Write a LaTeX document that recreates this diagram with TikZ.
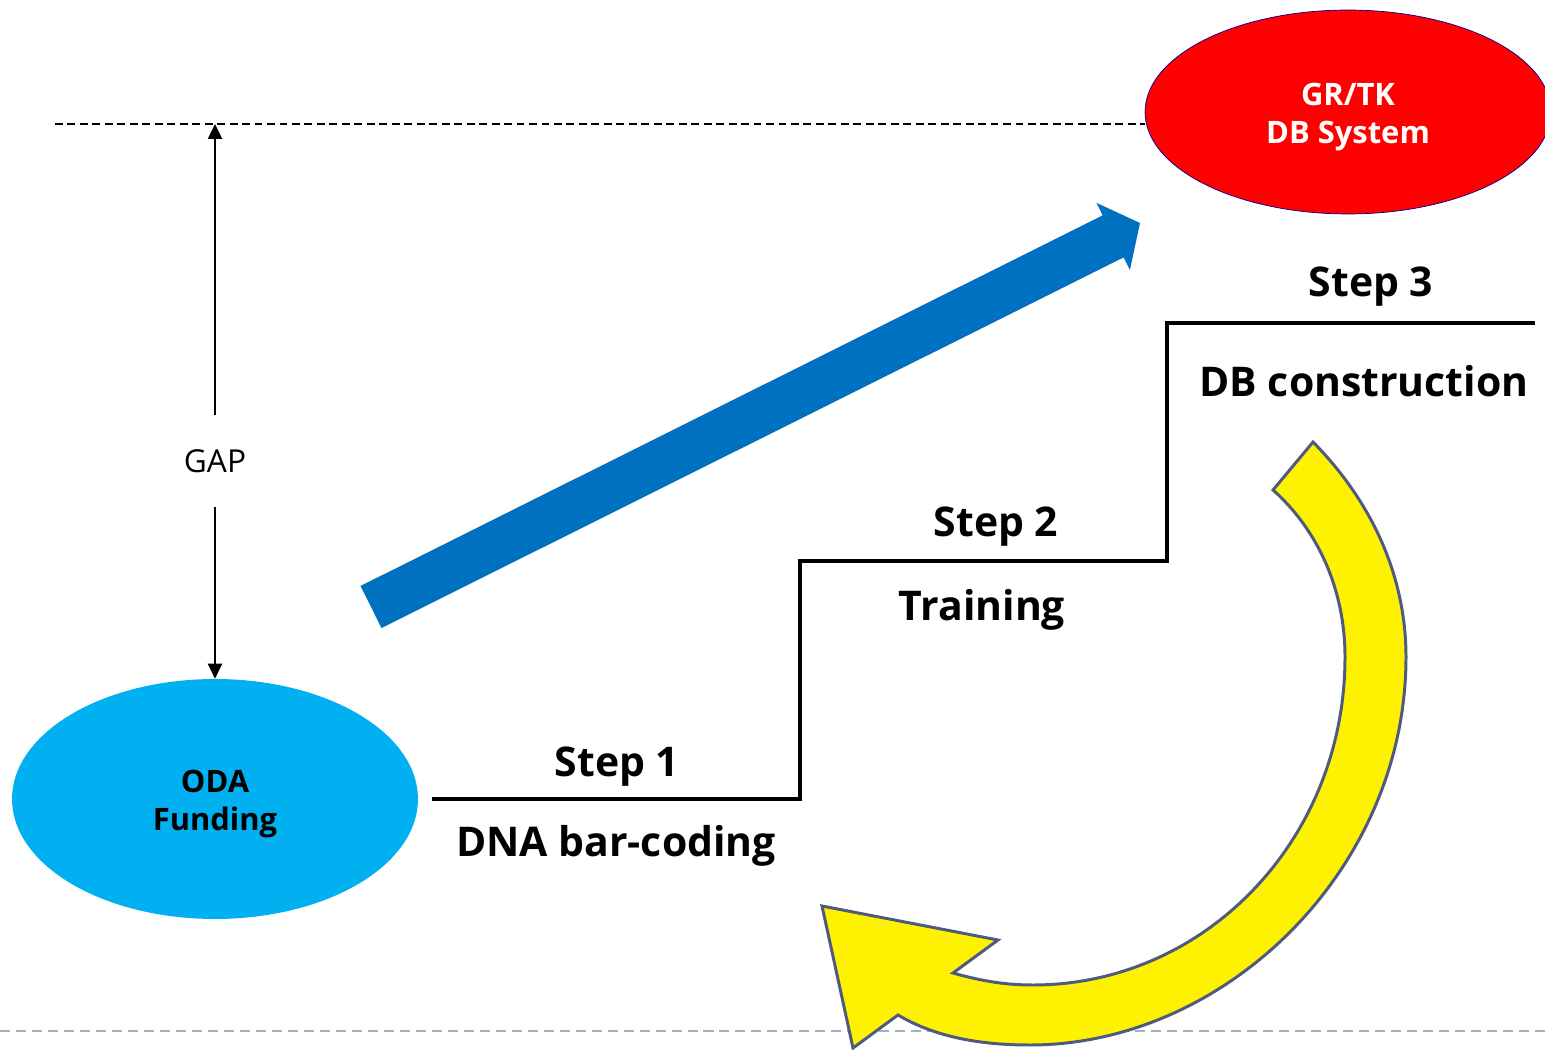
\documentclass[tikz,border=0pt]{standalone}
\usepackage{fontspec}
\setmainfont{Open Sans}
\usetikzlibrary{arrows.meta,shapes.geometric,calc}

\definecolor{odablue}{HTML}{00B0F0}
\definecolor{dbred}{HTML}{FF0000}
\definecolor{flowblue}{HTML}{0070C0}
\definecolor{cycleedge}{HTML}{4F5B7E}
\definecolor{footline}{HTML}{9DB4CA}

\begin{document}
\begin{tikzpicture}[x=0.02cm, y=-0.02cm,
   goal/.style={ellipse, inner sep=0pt, minimum width=8.12cm},
   goaltext/.style={align=center, inner sep=0pt, font=\bfseries\fontsize{17.6}{21.8}\selectfont},
   steplabel/.style={font=\bfseries\fontsize{23.3}{28}\selectfont},
   gaparrow/.style={-{Triangle[length=8.5pt,width=8pt]}, line width=1.1pt},
   stair/.style={line width=1.8pt, line join=miter},
   cyclearrow/.style={fill=yellow, draw=cycleedge, line width=1.7pt, line join=miter}]

\useasboundingbox (0,0) rectangle (1545,1050);

\draw[footline, line width=1.1pt, dash pattern=on 5.7pt off 3.4pt] (0,1031) -- (1545,1031);

\node[goal, fill=odablue, minimum height=4.8cm] (oda) at (215,799) {};
\node[goaltext] (odatext) at ([yshift=-0.1cm]oda.center) {ODA\\Funding};
\node[goal, fill=dbred, draw=blue!60!black, line width=0.4pt, minimum height=4.08cm] (grtk) at (1348,112) {};
\node[goaltext, text=white] (grtktext) at ([yshift=-0.1cm]grtk.center) {GR/TK\\DB System};

\coordinate (ltop) at (55,124);
\draw[line width=0.85pt, dash pattern=on 4.5pt off 2.6pt] (ltop) -- (ltop -| grtk.west);

\node[font=\fontsize{18}{21.8}\selectfont, minimum height=1.84cm, inner sep=0pt] (gap) at (215,461) {GAP};
\draw[gaparrow] (gap) -- (gap |- ltop);
\draw[gaparrow] (gap) -- (oda);

\coordinate (ftail) at (371,607);
\coordinate (fhead) at (1140,223);
\coordinate (hb) at ($(fhead)!0.6cm!(ftail)$);
\fill[flowblue] ($(ftail)!0.47cm!90:(fhead)$) -- ($(hb)!0.47cm!90:(fhead)$)
   -- ($(hb)!0.75cm!90:(fhead)$) -- (fhead) -- ($(hb)!0.75cm!-90:(fhead)$)
   -- ($(hb)!0.47cm!-90:(fhead)$) -- ($(ftail)!0.47cm!-90:(fhead)$) -- cycle;

\coordinate (s0) at (432,799);
\coordinate (s1) at (800,799);
\coordinate (s2) at (800,561);
\coordinate (s3) at (1167,561);
\coordinate (s4) at (1167,323);
\coordinate (s5) at (1535,323);
\draw[stair] (s0) -- (s1) -- (s2) -- (s3) -- (s4) -- (s5);

\node[steplabel] (step1) at (617,767) {Step 1};
\node[steplabel] (task1) at (616,846) {DNA bar-coding};
\node[steplabel] (step2) at (996,527) {Step 2};
\node[steplabel] (task2) at (982,610) {Training};
\node[steplabel] (step3) at (1371,287) {Step 3};
\node[steplabel] (task3) at (1364,381) {DB construction};

\draw[cyclearrow] (1313,442) .. controls (1375,505) and (1406,580) .. (1406,657)
   .. controls (1406,870) and (1225,1045) .. (1030,1045)
   .. controls (980,1045) and (935,1037) .. (898,1015)
   -- (853,1048) -- (822,906) -- (998,940) -- (953,973)
   .. controls (985,982) and (1008,985) .. (1033,985)
   .. controls (1205,985) and (1345,840) .. (1345,657)
   .. controls (1345,590) and (1318,530) .. (1273,490) -- cycle;

\end{tikzpicture}
\end{document}
